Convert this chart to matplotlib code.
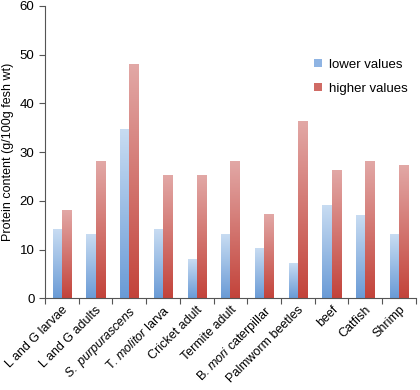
import numpy as np
import matplotlib.pyplot as plt
from matplotlib.colors import LinearSegmentedColormap

plt.rcParams['font.family'] = ['Liberation Sans', 'DejaVu Sans']
plt.rcParams['mathtext.fontset'] = 'custom'
plt.rcParams['mathtext.rm'] = 'Liberation Sans'
plt.rcParams['mathtext.it'] = 'Liberation Sans:italic'

# Data
categories = ['L and G larvae', 'L and G adults', r'$\it{S.\ purpurascens}$',
              r'T. $\it{molitor}$ larva', 'Cricket adult', 'Termite adult',
              r'B. $\it{mori}$ caterpillar', 'Palmworm beetles', 'beef',
              'Catfish', 'Shrimp']
lower_values = [14, 13, 34.6, 14, 7.9, 13.1, 10.2, 7, 19, 17, 13]
higher_values = [18, 28.1, 48, 25.2, 25.2, 28.1, 17.1, 36.2, 26.1, 28.1, 27.1]

fig, ax = plt.subplots(figsize=(4.2, 3.9), dpi=100)
fig.subplots_adjust(left=0.107, right=0.99, top=0.985, bottom=0.235)

x = np.arange(len(categories))
w = 0.27
blue_cmap = LinearSegmentedColormap.from_list('b', ['#6a9bd6', '#c8dcf2'])
red_cmap = LinearSegmentedColormap.from_list('r', ['#c3433a', '#e2a8a6'])
grad = np.linspace(0, 1, 256).reshape(-1, 1)

bars_lo = ax.bar(x - w / 2, lower_values, w, color='#8fb4e3', label='lower values')
bars_hi = ax.bar(x + w / 2, higher_values, w, color='#d06b65', label='higher values')

# gradient fill over each bar
for bars, cmap in [(bars_lo, blue_cmap), (bars_hi, red_cmap)]:
    for b in bars:
        x0, y0 = b.get_x(), b.get_y()
        ax.imshow(grad, cmap=cmap, origin='lower', aspect='auto',
                  extent=[x0, x0 + b.get_width(), y0, y0 + b.get_height()], zorder=2)

ax.set_xlim(-0.5, len(categories) - 0.5)
ax.set_ylim(0, 60)
ax.set_yticks(range(0, 61, 10))
ax.set_ylabel('Protein content (g/100g fesh wt)', fontsize=9, labelpad=4)

ax.set_xticks(np.arange(-0.5, len(categories) + 0.5, 1))
ax.set_xticklabels([])
ax.set_xticks(x, minor=True)
ax.set_xticklabels(categories, minor=True, rotation=45, ha='right',
                   rotation_mode='anchor', fontsize=9)
ax.tick_params(axis='x', which='minor', length=0, pad=4)
ax.tick_params(axis='x', which='major', length=4, direction='out', color='#555555')
ax.tick_params(axis='y', length=4, direction='out', color='#555555', labelsize=9.5)

for s in ['top', 'right']:
    ax.spines[s].set_visible(False)
for s in ['left', 'bottom']:
    ax.spines[s].set_color('#555555')

ax.legend(loc='upper right', bbox_to_anchor=(1.01, 0.86), frameon=False,
          fontsize=9.5, handlelength=0.6, handleheight=0.6, handletextpad=0.5,
          labelspacing=0.9)

fig.savefig('out.png')
